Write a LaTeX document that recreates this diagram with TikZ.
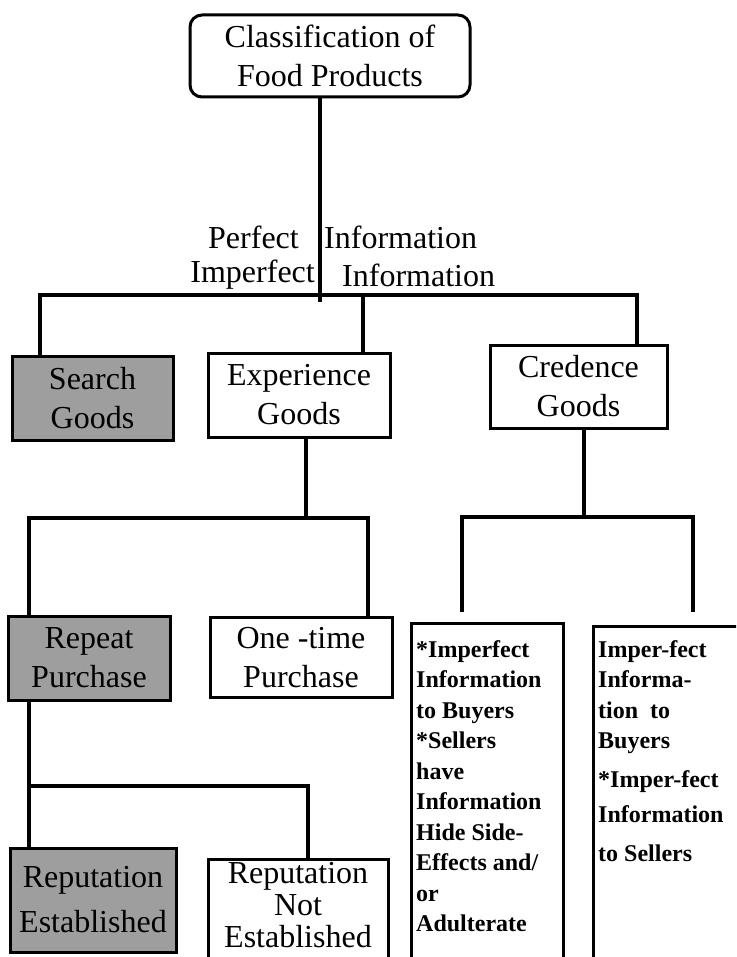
\documentclass[tikz,border=0pt]{standalone}
\usepackage{fontspec}
\setmainfont{Liberation Serif}
\usetikzlibrary{positioning}

\newcommand\boxfont{\fontsize{32}{39}\selectfont}
\newcommand\notefont{\fontsize{24}{30.5}\selectfont\bfseries}

\tikzset{
  box/.style={draw, line width=3pt, align=center, inner sep=0pt, font=\boxfont},
  shadebox/.style={box, fill=black!38},
  notebox/.style={draw, line width=3pt, inner sep=0pt, anchor=north west},
  notetext/.style={anchor=north west, align=left, inner sep=0pt, font=\notefont},
  lbl/.style={inner sep=0pt, font=\boxfont},
  link/.style={line width=3.2pt}
}

\begin{document}
\begin{tikzpicture}[x=1pt,y=-1pt]
\useasboundingbox (0,0) rectangle (736,957);
\clip (0,0) rectangle (736,957);

% root
\node[box, rounded corners=12pt, minimum width=280, minimum height=82] (root) at (330,56)
  {Classification of\\Food Products};

\node[lbl, anchor=east] (perf) at (299,237) {Perfect};
\node[lbl, anchor=west] (inf1) at (324,237) {Information};
\node[lbl, anchor=east] (imperf) at (315,275) {Imperfect};
\node[lbl, anchor=west] (inf2) at (342,275) {Information};

% first level
\node[shadebox, minimum width=161, minimum height=84] (search) at (92.5,398.5) {Search\\Goods};
\node[box, minimum width=182, minimum height=84] (exper) at (299,395) {Experience\\Goods};
\node[box, minimum width=177, minimum height=83] (cred) at (578.5,386.5) {Credence\\Goods};

% experience goods
\node[shadebox, minimum width=162, minimum height=84] (repeat) at (89,658) {Repeat\\Purchase};
\node[box, minimum width=182, minimum height=80] (onetime) at (301,657.5) {One -time\\Purchase};

% repeat purchase
\node[shadebox, minimum width=166, minimum height=104, font=\fontsize{32}{45}\selectfont] (repest) at (93,900)
  {Reputation\\Established};
\node[box, anchor=north, minimum width=180, minimum height=120] (repnot) at (298,858) {};
\node[lbl, anchor=north, align=center, font=\fontsize{32}{32}\selectfont] (repnottxt) at ([yshift=-4pt]repnot.north)
  {Reputation\\Not\\Established};

% credence goods
\node[notebox, minimum width=152, minimum height=360] (credl) at (410,622) {};
\node[notetext] (credltxt) at ([xshift=6pt,yshift=-18pt]credl.north west)
  {*Imperfect\\Information\\to Buyers\\*Sellers\\have\\Information\\Hide Side-\\Effects and/\\or\\Adulterate};
\node[notebox, minimum width=170, minimum height=360] (credr) at (592,625) {};
\node[notetext] (credrtxt) at ([xshift=6pt,yshift=-15pt]credr.north west)
  {Imper-fect\\Informa-\\tion~~to\\Buyers\\[8pt]*Imper-fect\\[5pt]Information\\[8pt]to Sellers};

% junctions
\coordinate (m1) at (320,302);
\coordinate (s1) at (40,295);
\coordinate (e1) at (363,295);
\coordinate (c1) at (637,295);
\coordinate (x2) at (306,518);
\coordinate (r2) at (29,518);
\coordinate (o2) at (368,518);
\coordinate (r3) at (29,786);
\coordinate (n3) at (308,786);
\coordinate (k3) at (584,517);
\coordinate (l3) at (462,517);
\coordinate (h3) at (693,517);
\coordinate (l4) at (462,612);
\coordinate (h4) at (693,612);

\draw[link] (root.south -| m1) -- (m1);
\draw[link] (search.north -| s1) |- (c1) -- (cred.north -| c1);
\draw[link] (exper.north -| e1) -- (e1);

\draw[link] (exper.south -| x2) -- (x2);
\draw[link] (repeat.north -| r2) |- (o2) -- (onetime.north -| o2);

\draw[link] (repeat.south -| r3) -- (repest.north -| r3);
\draw[link] (r3) -- (n3) -- (repnot.north -| n3);

\draw[link] (cred.south -| k3) -- (k3);
\draw[link] (l4) |- (h3) -- (h4);
\end{tikzpicture}
\end{document}
